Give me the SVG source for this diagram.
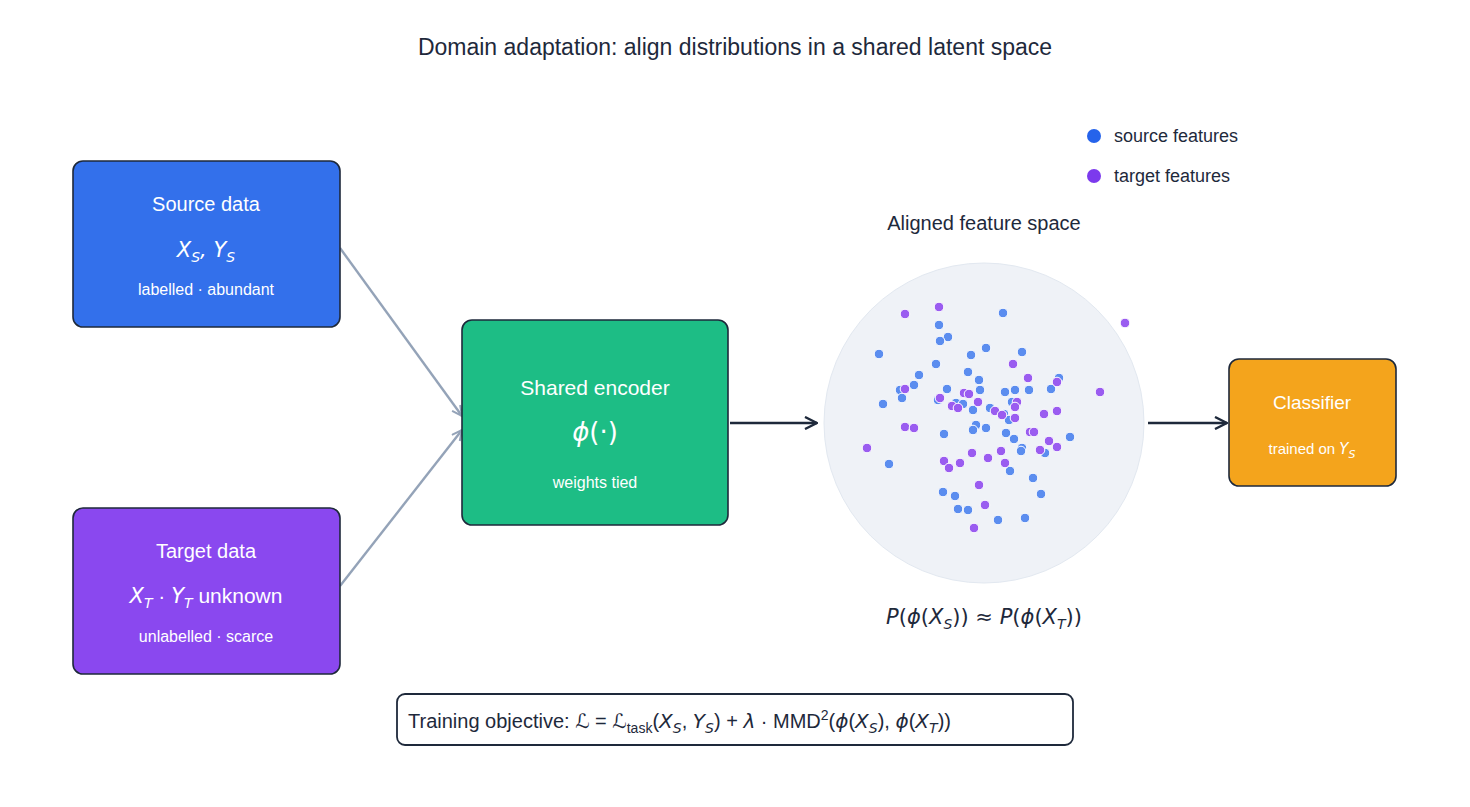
<svg xmlns="http://www.w3.org/2000/svg" width="1470" height="807" viewBox="0 0 1470 807">
<defs>
<style>
text{font-family:"Liberation Sans",Arial,sans-serif;}
.m{font-family:"DejaVu Sans","Liberation Sans",sans-serif;font-style:italic;}
.box{stroke:#1e293b;stroke-width:1.6;}
.w{fill:#fff;text-anchor:middle;}
.s{fill:#5b8def;stroke:#fff;stroke-width:1;}
.t{fill:#9a5cf0;stroke:#fff;stroke-width:1;}
</style>
<marker id="ag" viewBox="0 0 12 12" refX="11" refY="6" markerWidth="12" markerHeight="12" markerUnits="userSpaceOnUse" orient="auto"><path d="M1,1 L11,6 L1,11" fill="none" stroke="#94a3b8" stroke-width="2"/></marker>
<marker id="ad" viewBox="0 0 14 14" refX="13" refY="7" markerWidth="14" markerHeight="14" markerUnits="userSpaceOnUse" orient="auto"><path d="M1,1 L13,7 L1,13" fill="none" stroke="#1e293b" stroke-width="2.4"/></marker>
</defs>
<rect width="1470" height="807" fill="#fff"/>
<text x="735" y="55" text-anchor="middle" font-size="23" fill="#1e293b">Domain adaptation: align distributions in a shared latent space</text>

<g id="connectors">
<line x1="340" y1="248" x2="462" y2="416" stroke="#94a3b8" stroke-width="2.4" marker-end="url(#ag)"/>
<line x1="340" y1="586" x2="462" y2="430" stroke="#94a3b8" stroke-width="2.4" marker-end="url(#ag)"/>
<line x1="730" y1="423" x2="817" y2="423" stroke="#1e293b" stroke-width="2.6" marker-end="url(#ad)"/>
<line x1="1148" y1="423" x2="1227" y2="423" stroke="#1e293b" stroke-width="2.6" marker-end="url(#ad)"/>
</g>

<g id="source">
<rect class="box" x="73" y="161" width="267" height="166" rx="10" fill="#3370eb"/>
<text class="w" x="206" y="211" font-size="20">Source data</text>
<text class="w m" x="206" y="257" font-size="21">X<tspan font-size="14" dy="5">S</tspan><tspan dy="-5">, Y</tspan><tspan font-size="14" dy="5">S</tspan></text>
<text class="w" x="206" y="295" font-size="16">labelled  ·  abundant</text>
</g>

<g id="target">
<rect class="box" x="73" y="508" width="267" height="166" rx="10" fill="#8a48ef"/>
<text class="w" x="206" y="558" font-size="20">Target data</text>
<text class="w" x="206" y="603" font-size="21"><tspan class="m">X</tspan><tspan class="m" font-size="14" dy="5">T</tspan><tspan dy="-5">  ·  </tspan><tspan class="m">Y</tspan><tspan class="m" font-size="14" dy="5">T</tspan><tspan dy="-5"> unknown</tspan></text>
<text class="w" x="206" y="642" font-size="16">unlabelled  ·  scarce</text>
</g>

<g id="encoder">
<rect class="box" x="462" y="320" width="266" height="205" rx="10" fill="#1dbd85"/>
<text class="w" x="595" y="395" font-size="21">Shared encoder</text>
<text class="w m" x="595" y="441" font-size="26">ϕ<tspan font-style="normal">(·)</tspan></text>
<text class="w" x="595" y="488" font-size="16">weights tied</text>
</g>

<g id="classifier">
<rect class="box" x="1229" y="359" width="167" height="127" rx="10" fill="#f4a41c"/>
<text class="w" x="1312" y="409" font-size="19">Classifier</text>
<text class="w" x="1312" y="454" font-size="15">trained on <tspan class="m">Y</tspan><tspan class="m" font-size="11" dy="4">S</tspan></text>
</g>

<g id="feature-space">
<text x="984" y="230" text-anchor="middle" font-size="20" fill="#1e293b">Aligned feature space</text>
<circle cx="984" cy="423" r="160" fill="#eff2f7" stroke="#e2e8f0" stroke-width="1"/>
<g>
<circle class="s" cx="1003" cy="313" r="4.8"/><circle class="s" cx="939" cy="325" r="4.8"/><circle class="s" cx="948" cy="337" r="4.8"/><circle class="s" cx="940" cy="341" r="4.8"/><circle class="s" cx="879" cy="354" r="4.8"/><circle class="s" cx="971" cy="355" r="4.8"/><circle class="s" cx="986" cy="348" r="4.8"/><circle class="s" cx="1022" cy="352" r="4.8"/><circle class="s" cx="936" cy="364" r="4.8"/><circle class="s" cx="968" cy="372" r="4.8"/><circle class="s" cx="979" cy="380" r="4.8"/><circle class="s" cx="919" cy="375" r="4.8"/><circle class="s" cx="914" cy="385" r="4.8"/><circle class="s" cx="947" cy="389" r="4.8"/><circle class="s" cx="980" cy="390" r="4.8"/><circle class="s" cx="1005" cy="392" r="4.8"/><circle class="s" cx="1015" cy="390" r="4.8"/><circle class="s" cx="1029" cy="390" r="4.8"/><circle class="s" cx="1051" cy="389" r="4.8"/><circle class="s" cx="1059" cy="378" r="4.8"/><circle class="s" cx="900" cy="390" r="4.8"/><circle class="s" cx="902" cy="398" r="4.8"/><circle class="s" cx="883" cy="404" r="4.8"/><circle class="s" cx="938" cy="400" r="4.8"/><circle class="s" cx="956" cy="403" r="4.8"/><circle class="s" cx="963" cy="404" r="4.8"/><circle class="s" cx="973" cy="410" r="4.8"/><circle class="s" cx="990" cy="408" r="4.8"/><circle class="s" cx="1004" cy="414" r="4.8"/><circle class="s" cx="976" cy="425" r="4.8"/><circle class="s" cx="986" cy="428" r="4.8"/><circle class="s" cx="973" cy="430" r="4.8"/><circle class="s" cx="944" cy="434" r="4.8"/><circle class="s" cx="1006" cy="433" r="4.8"/><circle class="s" cx="1014" cy="439" r="4.8"/><circle class="s" cx="1022" cy="448" r="4.8"/><circle class="s" cx="1021" cy="451" r="4.8"/><circle class="s" cx="1045" cy="453" r="4.8"/><circle class="s" cx="1070" cy="437" r="4.8"/><circle class="s" cx="1010" cy="471" r="4.8"/><circle class="s" cx="1033" cy="478" r="4.8"/><circle class="s" cx="1041" cy="494" r="4.8"/><circle class="s" cx="889" cy="464" r="4.8"/><circle class="s" cx="943" cy="492" r="4.8"/><circle class="s" cx="955" cy="496" r="4.8"/><circle class="s" cx="958" cy="509" r="4.8"/><circle class="s" cx="968" cy="510" r="4.8"/><circle class="s" cx="998" cy="520" r="4.8"/><circle class="s" cx="1025" cy="518" r="4.8"/><circle class="s" cx="1009" cy="420" r="4.8"/><circle class="s" cx="1012" cy="402" r="4.8"/>
<circle class="t" cx="905" cy="314" r="4.8"/><circle class="t" cx="939" cy="307" r="4.8"/><circle class="t" cx="1125" cy="323" r="4.8"/><circle class="t" cx="1013" cy="364" r="4.8"/><circle class="t" cx="1028" cy="378" r="4.8"/><circle class="t" cx="1057" cy="382" r="4.8"/><circle class="t" cx="1100" cy="392" r="4.8"/><circle class="t" cx="905" cy="389" r="4.8"/><circle class="t" cx="940" cy="398" r="4.8"/><circle class="t" cx="952" cy="406" r="4.8"/><circle class="t" cx="958" cy="408" r="4.8"/><circle class="t" cx="964" cy="393" r="4.8"/><circle class="t" cx="969" cy="394" r="4.8"/><circle class="t" cx="978" cy="402" r="4.8"/><circle class="t" cx="995" cy="411" r="4.8"/><circle class="t" cx="1002" cy="415" r="4.8"/><circle class="t" cx="1017" cy="402" r="4.8"/><circle class="t" cx="1015" cy="407" r="4.8"/><circle class="t" cx="1015" cy="418" r="4.8"/><circle class="t" cx="1044" cy="414" r="4.8"/><circle class="t" cx="1057" cy="411" r="4.8"/><circle class="t" cx="905" cy="427" r="4.8"/><circle class="t" cx="914" cy="428" r="4.8"/><circle class="t" cx="1030" cy="432" r="4.8"/><circle class="t" cx="1034" cy="432" r="4.8"/><circle class="t" cx="1049" cy="441" r="4.8"/><circle class="t" cx="1057" cy="447" r="4.8"/><circle class="t" cx="1040" cy="450" r="4.8"/><circle class="t" cx="867" cy="448" r="4.8"/><circle class="t" cx="944" cy="461" r="4.8"/><circle class="t" cx="949" cy="468" r="4.8"/><circle class="t" cx="960" cy="463" r="4.8"/><circle class="t" cx="972" cy="453" r="4.8"/><circle class="t" cx="988" cy="458" r="4.8"/><circle class="t" cx="1001" cy="451" r="4.8"/><circle class="t" cx="1005" cy="463" r="4.8"/><circle class="t" cx="979" cy="485" r="4.8"/><circle class="t" cx="985" cy="505" r="4.8"/><circle class="t" cx="974" cy="528" r="4.8"/>
</g>
<text x="984" y="624" text-anchor="middle" font-size="21" fill="#1e293b" class="m">P<tspan font-style="normal">(</tspan>ϕ<tspan font-style="normal">(</tspan>X<tspan font-size="14" dy="5">S</tspan><tspan dy="-5" font-style="normal">)) ≈ </tspan>P<tspan font-style="normal">(</tspan>ϕ<tspan font-style="normal">(</tspan>X<tspan font-size="14" dy="5">T</tspan><tspan dy="-5" font-style="normal">))</tspan></text>
</g>

<g id="legend">
<circle cx="1094" cy="136" r="7" fill="#2563eb"/>
<text x="1114" y="142" font-size="18" fill="#1e293b">source features</text>
<circle cx="1094" cy="176" r="7" fill="#7c3aed"/>
<text x="1114" y="182" font-size="18" fill="#1e293b">target features</text>
</g>

<g id="objective">
<rect x="397" y="694" width="676" height="51" rx="8" fill="#fff" stroke="#1e293b" stroke-width="1.8"/>
<text x="408" y="728" font-size="20" fill="#1e293b">Training objective:   <tspan class="m">ℒ</tspan> = <tspan class="m">ℒ</tspan><tspan font-size="14" dy="5">task</tspan><tspan dy="-5">(</tspan><tspan class="m">X</tspan><tspan class="m" font-size="14" dy="5">S</tspan><tspan dy="-5">, </tspan><tspan class="m">Y</tspan><tspan class="m" font-size="14" dy="5">S</tspan><tspan dy="-5">) + </tspan><tspan class="m">λ</tspan> · MMD<tspan font-size="14" dy="-8">2</tspan><tspan dy="8">(</tspan><tspan class="m">ϕ</tspan>(<tspan class="m">X</tspan><tspan class="m" font-size="14" dy="5">S</tspan><tspan dy="-5">), </tspan><tspan class="m">ϕ</tspan>(<tspan class="m">X</tspan><tspan class="m" font-size="14" dy="5">T</tspan><tspan dy="-5">))</tspan></text>
</g>
</svg>
